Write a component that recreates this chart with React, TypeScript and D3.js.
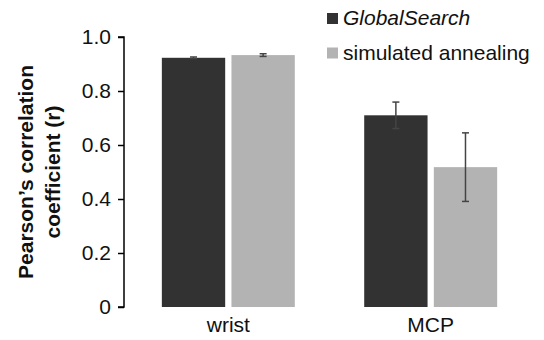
import React, { useEffect, useRef } from 'react';
import * as d3 from 'd3';

const categories = ['wrist', 'MCP'];
const seriesNames = ['GlobalSearch', 'simulated annealing'];
const globalSearchValues = [0.923, 0.71];
const globalSearchErrors = [0.003, 0.049];
const annealingValues = [0.933, 0.518];
const annealingErrors = [0.005, 0.127];
const yTicks = [0, 0.2, 0.4, 0.6, 0.8, 1.0];

const colors = ['#323232', '#b3b3b3'];
const font = 'Liberation Sans, Arial, Helvetica, sans-serif';

export default function App() {
  const svgRef = useRef<SVGSVGElement | null>(null);

  useEffect(() => {
    if (!svgRef.current) return;
    const svg = d3.select(svgRef.current);
    svg.selectAll('*').remove();

    const left = 124;
    const right = 535;
    const top = 37;
    const bottom = 307;

    const x = d3.scaleBand().domain(categories).range([left, right]).paddingInner(0.343).paddingOuter(0.187);
    const xSub = d3.scaleBand().domain(seriesNames).range([0, x.bandwidth()]).paddingInner(0.09);
    const y = d3.scaleLinear().domain([0, 1]).range([bottom, top]);

    const rows = categories.map((c, i) => ({
      cat: c,
      bars: [
        { name: seriesNames[0], value: globalSearchValues[i], err: globalSearchErrors[i], color: colors[0] },
        { name: seriesNames[1], value: annealingValues[i], err: annealingErrors[i], color: colors[1] },
      ],
    }));

    // bars
    const groups = svg.append('g')
      .selectAll('g')
      .data(rows)
      .enter()
      .append('g')
      .attr('transform', d => `translate(${x(d.cat)},0)`);

    groups.selectAll('rect')
      .data(d => d.bars)
      .enter()
      .append('rect')
      .attr('x', d => xSub(d.name)!)
      .attr('y', d => y(d.value))
      .attr('width', xSub.bandwidth())
      .attr('height', d => y(0) - y(d.value))
      .attr('fill', d => d.color);

    // error bars
    const err = groups.selectAll('g.err')
      .data(d => d.bars)
      .enter()
      .append('g')
      .attr('class', 'err')
      .attr('stroke', '#444')
      .attr('stroke-width', 1.5);
    const cx = (d: any) => xSub(d.name)! + xSub.bandwidth() / 2;
    err.append('line')
      .attr('x1', cx).attr('x2', cx)
      .attr('y1', d => y(d.value + d.err)).attr('y2', d => y(d.value - d.err));
    err.append('line')
      .attr('x1', d => cx(d) - 3.5).attr('x2', d => cx(d) + 3.5)
      .attr('y1', d => y(d.value + d.err)).attr('y2', d => y(d.value + d.err));
    err.append('line')
      .attr('x1', d => cx(d) - 3.5).attr('x2', d => cx(d) + 3.5)
      .attr('y1', d => y(d.value - d.err)).attr('y2', d => y(d.value - d.err));

    // y axis
    const yAxis = d3.axisLeft(y)
      .tickValues(yTicks)
      .tickSize(6)
      .tickPadding(7)
      .tickFormat(d => (d === 0 ? '0' : d3.format('.1f')(d as number)));
    const ya = svg.append('g')
      .attr('transform', `translate(${left},0)`)
      .call(yAxis);
    ya.select('.domain').attr('d', `M-6,${top}H0V${bottom}H-6`).attr('stroke', '#000').attr('stroke-width', 1.5);
    ya.selectAll('.tick line').attr('stroke', '#000').attr('stroke-width', 1.5);
    ya.selectAll('.tick text')
      .attr('font-family', font)
      .attr('font-size', 21)
      .attr('fill', '#111');

    // y axis title
    const title = svg.append('text')
      .attr('transform', `translate(33,${(top + bottom) / 2}) rotate(-90)`)
      .attr('text-anchor', 'middle')
      .attr('font-family', font)
      .attr('font-size', 21)
      .attr('font-weight', 'bold')
      .attr('fill', '#111');
    title.append('tspan').attr('x', 0).attr('dy', 0).text('Pearson\u2019s correlation');
    title.append('tspan').attr('x', 0).attr('dy', 27).text('coefficient (r)');

    // x labels
    svg.append('g')
      .selectAll('text')
      .data(categories)
      .enter()
      .append('text')
      .attr('x', d => x(d)! + x.bandwidth() / 2)
      .attr('y', 332)
      .attr('text-anchor', 'middle')
      .attr('font-family', font)
      .attr('font-size', 21)
      .attr('fill', '#111')
      .text(d => d);

    // legend
    const legend = svg.append('g')
      .selectAll('g')
      .data(seriesNames)
      .enter()
      .append('g')
      .attr('transform', (d, i) => `translate(327,${13 + i * 34.5})`);
    legend.append('rect')
      .attr('width', 11)
      .attr('height', 11)
      .attr('fill', (d, i) => colors[i]);
    legend.append('text')
      .attr('x', 16)
      .attr('y', 12)
      .attr('font-family', font)
      .attr('font-size', 21)
      .attr('font-style', (d, i) => (i === 0 ? 'italic' : 'normal'))
      .attr('fill', '#111')
      .text(d => d);
  }, []);

  return (
    <svg
      ref={svgRef}
      width={544}
      height={340}
      style={{ position: 'absolute', left: 0, top: 0, background: '#fff' }}
    />
  );
}
